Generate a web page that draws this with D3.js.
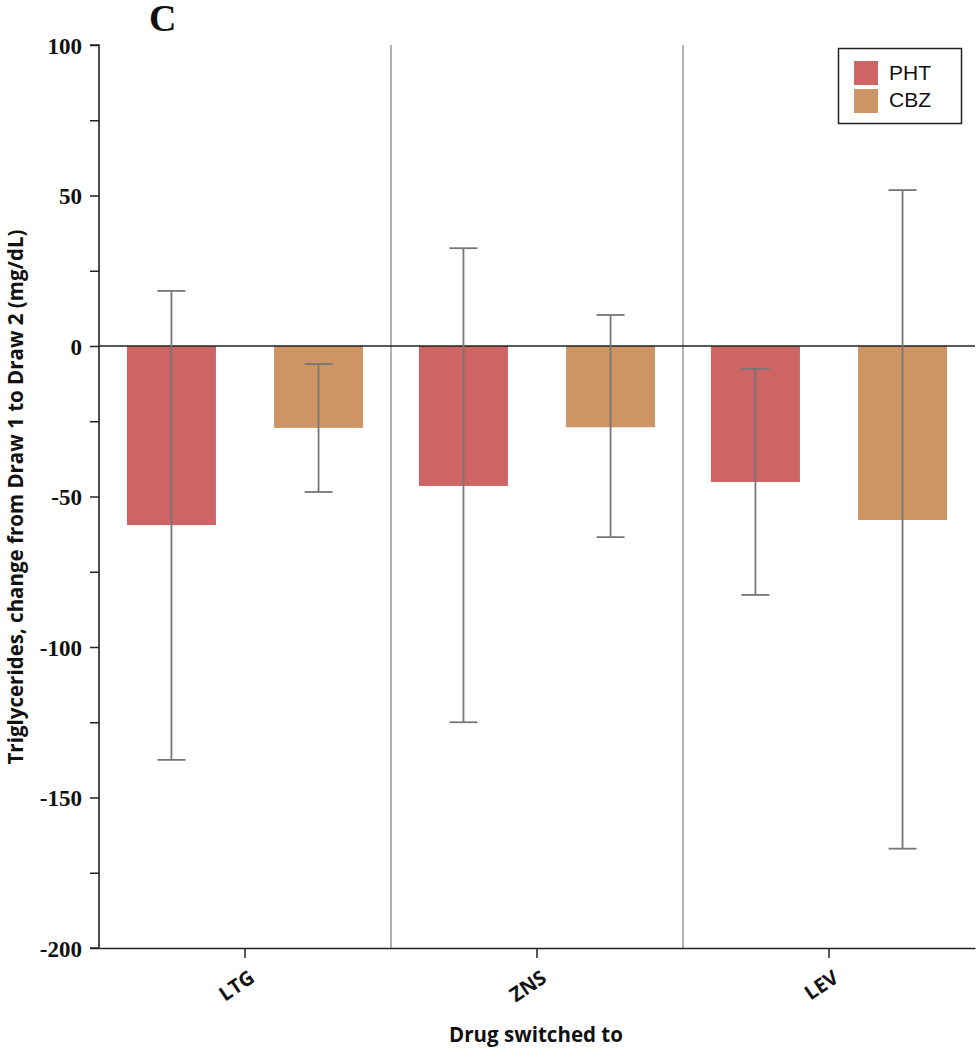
<!DOCTYPE html>
<html><head><meta charset="utf-8">
<script src="https://cdn.jsdelivr.net/npm/d3@7"></script>
<style>body{margin:0;background:#fff}svg{display:block}</style>
</head><body>
<svg id="chart" width="976" height="1050"></svg>
<script>
const drugs = ["LTG", "ZNS", "LEV"];
const series = ["PHT", "CBZ"];
const phtMean = [-59.5, -46.5, -45.2];
const phtLow = [-137.5, -125, -82.7];
const phtHigh = [18.3, 32.5, -7.6];
const cbzMean = [-27.2, -27, -57.8];
const cbzLow = [-48.5, -63.5, -167];
const cbzHigh = [-6, 10.3, 51.8];
const yTicks = [100, 50, 0, -50, -100, -150, -200];
const colors = {PHT: "#cd6565", CBZ: "#cc9563"};

const data = [];
drugs.forEach((d, i) => {
  data.push({drug: d, s: "PHT", v: phtMean[i], lo: phtLow[i], hi: phtHigh[i]});
  data.push({drug: d, s: "CBZ", v: cbzMean[i], lo: cbzLow[i], hi: cbzHigh[i]});
});

const svg = d3.select("#chart");
const L = 99, R = 975, T = 45, B = 948;

const x0 = d3.scaleBand().domain(drugs).range([L, R]).padding(0);
const x1 = d3.scaleBand().domain(series).range([0, x0.bandwidth()]).paddingInner(0.395).paddingOuter(0.19);
const y = d3.scaleLinear().domain([-200, 100]).range([B, T]);

// divider lines
svg.selectAll("line.div").data(drugs.slice(1)).enter().append("line")
  .attr("x1", d => x0(d)).attr("x2", d => x0(d))
  .attr("y1", T).attr("y2", B)
  .attr("stroke", "#999").attr("stroke-width", 1.5);

// bars
svg.selectAll("rect.bar").data(data).enter().append("rect")
  .attr("x", d => x0(d.drug) + x1(d.s))
  .attr("width", x1.bandwidth())
  .attr("y", d => y(Math.max(0, d.v)))
  .attr("height", d => Math.abs(y(d.v) - y(0)))
  .attr("fill", d => colors[d.s]);

// zero line
svg.append("line").attr("x1", L).attr("x2", R).attr("y1", y(0)).attr("y2", y(0))
  .attr("stroke", "#222").attr("stroke-width", 1.6);

// error bars
const cap = 14;
const eg = svg.append("g").attr("stroke", "#777").attr("stroke-width", 1.8);
data.forEach(d => {
  const cx = x0(d.drug) + x1(d.s) + x1.bandwidth() / 2;
  eg.append("line").attr("x1", cx).attr("x2", cx).attr("y1", y(d.hi)).attr("y2", y(d.lo));
  eg.append("line").attr("x1", cx - cap).attr("x2", cx + cap).attr("y1", y(d.hi)).attr("y2", y(d.hi));
  eg.append("line").attr("x1", cx - cap).attr("x2", cx + cap).attr("y1", y(d.lo)).attr("y2", y(d.lo));
});

// y axis
const yAxis = d3.axisLeft(y).tickValues(d3.range(-200, 101, 25)).tickSize(9)
  .tickFormat(d => yTicks.includes(d) ? d : "");
const gy = svg.append("g").attr("transform", `translate(${L},0)`).call(yAxis);
gy.select(".domain").attr("stroke", "#222").attr("stroke-width", 1.6).attr("d", `M-9,${T}H0V${B}H-9`);
gy.selectAll(".tick line").attr("stroke", "#222").attr("stroke-width", 1.5);
gy.selectAll(".tick text").attr("x", -17).attr("dy", "0.35em")
  .style("font-family", "'Liberation Serif', serif").style("font-weight", "bold")
  .style("font-size", "23px").attr("fill", "#111");

// x axis
const xAxis = d3.axisBottom(x0).tickSize(10).tickSizeOuter(0);
const gx = svg.append("g").attr("transform", `translate(0,${B})`).call(xAxis);
gx.select(".domain").attr("stroke", "#222").attr("stroke-width", 1.6);
gx.selectAll(".tick line").attr("stroke", "#222").attr("stroke-width", 1.5);
gx.selectAll(".tick text")
  .attr("text-anchor", "end").attr("dy", 0).attr("y", 0)
  .attr("transform", "translate(11,33) rotate(-34)")
  .style("font-family", "'Open Sans', sans-serif").style("font-weight", "bold")
  .style("font-size", "20px").attr("fill", "#111");

// axis titles
svg.append("text").attr("x", 536).attr("y", 1042).attr("text-anchor", "middle")
  .style("font-family", "'Open Sans', sans-serif").style("font-weight", "bold").style("font-size", "20.5px")
  .attr("fill", "#111").text("Drug switched to");

svg.append("text").attr("transform", `translate(23,497) rotate(-90)`)
  .attr("text-anchor", "middle")
  .style("font-family", "'Open Sans', sans-serif").style("font-weight", "bold").style("font-size", "20.5px")
  .attr("fill", "#111").text("Triglycerides, change from Draw 1 to Draw 2 (mg/dL)");

// panel label
svg.append("text").attr("x", 149).attr("y", 31)
  .style("font-family", "'Liberation Serif', serif").style("font-weight", "bold").style("font-size", "38px")
  .attr("fill", "#111").text("C");

// legend
const lg = svg.append("g");
lg.append("rect").attr("x", 838.5).attr("y", 48.5).attr("width", 123).attr("height", 75)
  .attr("fill", "#fff").attr("stroke", "#222").attr("stroke-width", 1.5);
series.forEach((s, i) => {
  lg.append("rect").attr("x", 854).attr("y", 61 + i * 28).attr("width", 24).attr("height", 24).attr("fill", colors[s]);
  lg.append("text").attr("x", 889).attr("y", 80 + i * 27)
    .style("font-family", "'Liberation Sans', sans-serif").style("font-size", "21px").attr("fill", "#111").text(s);
});
</script>
</body></html>
